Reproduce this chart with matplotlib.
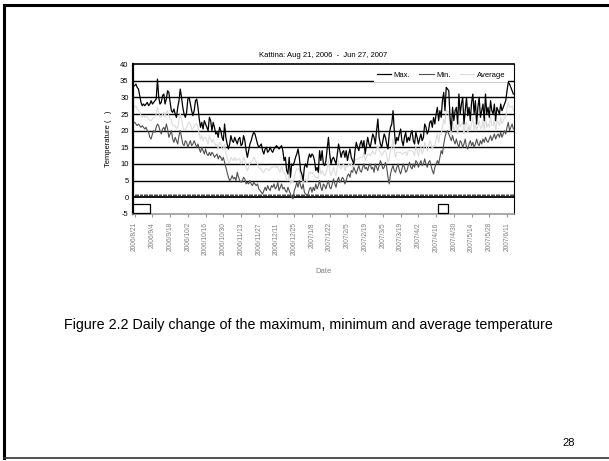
import datetime as dt
import matplotlib
matplotlib.use("Agg")
import matplotlib.pyplot as plt
from matplotlib.lines import Line2D
from matplotlib.patches import Rectangle

plt.rcParams["font.family"] = ["Liberation Sans", "DejaVu Sans"]
plt.rcParams["axes.unicode_minus"] = False

start_date = dt.date(2006, 8, 21)

# daily maximum temperature
t_max = [
    33.5, 34, 33, 32.5, 30.5, 28.5, 27.5, 28, 27.5, 28, 28.5, 27.5, 28, 29, 28, 28.5, 29, 29.5, 35.5, 30,
    28, 28.5, 30.5, 31, 28, 29.5, 32, 31.5, 28.5, 26, 25.5, 26.5, 25, 24, 27, 29, 32.5, 30, 27, 25,
    24, 25.5, 29.5, 30, 28, 26, 24.5, 26, 29, 29.5, 27, 23.5, 21, 22.5, 20.5, 23, 22, 21, 20, 24,
    23, 20, 22.5, 21, 19, 19.5, 18, 21, 20, 18, 17, 22, 18, 16, 14.5, 16, 18.5, 17, 16.5, 18,
    17, 16, 17.5, 18, 15.5, 16, 18.5, 17, 14, 12, 14, 16, 17, 18.5, 19.5, 19, 17.5, 16, 15, 15.5,
    16, 14, 13, 14.5, 15, 13.5, 14, 15, 14, 13.5, 14.5, 15, 15.5, 15, 14.5, 15, 15.5, 14, 11, 12,
    8, 7, 12, 6, 10, 9.5, 10.5, 12, 13, 14.5, 12, 8, 7, 5, 9, 10, 9, 11.5, 13, 12,
    13, 12.5, 11, 8, 9, 7.5, 14, 11, 14, 10, 9.5, 11, 14.5, 18, 13, 10, 11.5, 12, 11, 10,
    13, 16, 14, 12, 13.5, 14, 12, 14, 11, 13, 14.5, 12, 11, 10, 14, 16.5, 15, 14, 16, 17,
    15, 17, 13, 15.5, 18, 16, 15, 17, 19, 18, 16, 20, 23.5, 18, 16, 15, 17, 19, 18, 16,
    14.5, 19, 21, 22, 26, 20, 16, 18, 17, 19, 20.5, 17, 15.5, 18, 19.5, 16.5, 18, 17, 19, 20,
    17, 16, 19.5, 18, 16, 17.5, 19, 17, 18, 22, 21, 19, 20, 22.5, 23, 21, 24, 22, 25, 27,
    23, 26, 24, 29, 31.5, 26, 33, 32.5, 32, 24, 20, 27, 23, 26, 27, 22, 31, 25, 28, 30,
    22, 26, 30, 24.5, 27, 23, 28.5, 31, 25, 29, 22, 27, 30, 24, 26, 28, 23, 31, 25, 27,
    24, 29, 26, 25, 28, 23, 27, 26, 25, 28, 26, 27, 28, 29, 32, 34.5, 34, 33, 32, 31,
]

# daily minimum temperature
t_min = [
    22.5, 22, 21.5, 22, 21.5, 21, 21.5, 21, 20.5, 21, 20, 19.5, 18, 17.5, 19, 20, 19.5, 21, 22, 21.5,
    20, 19, 20.5, 21, 20, 22, 20.5, 18, 19, 20, 17.5, 16.5, 18, 17, 16, 18.5, 20, 18, 16, 15.5,
    17, 16.5, 15, 16, 17, 15.5, 16, 17, 16, 15, 16, 14.5, 13.5, 15, 14, 13, 14.5, 13, 12.5, 13.5,
    12.5, 13.5, 13, 12, 12.5, 13, 11.5, 12.5, 12, 11, 12, 10.5, 9, 7.5, 6, 5, 5.5, 6.5, 5.5, 6,
    5, 7.5, 6, 5, 4.5, 5, 6, 5.5, 4, 4.5, 4, 5, 4, 3.5, 4.5, 4, 3.5, 4, 2.5, 2,
    1.5, 1, 2, 3, 2, 3.5, 2.5, 2, 3.5, 3, 4, 2.5, 3, 4.5, 2, 3, 4, 2.5, 3, 2,
    1.5, 3, 2, 1, 0, -0.5, 2, 3, 4.5, 3, 5, 3.5, 2.5, 4, 1.5, 1, 0.5, 1, 2.5, 3,
    1.5, 3, 2, 4, 2.5, 3.5, 5, 3, 2, 4, 3.5, 2.5, 4, 5, 3, 2.5, 4, 5.5, 4, 3,
    5, 6, 4.5, 5, 6, 5.5, 4, 5, 6.5, 7, 6, 8, 7.5, 9, 8, 7, 8.5, 9.5, 8, 7.5,
    9, 10, 8.5, 9, 8, 9.5, 10, 8.5, 9, 7.5, 10, 9, 8, 9.5, 11, 10, 8.5, 9, 10.5, 9,
    6, 4, 7, 8.5, 9.5, 8, 7.5, 9, 10, 8, 7, 8.5, 10, 9, 7.5, 8, 9.5, 10.5, 9, 8.5,
    10, 9, 11, 10.5, 9, 10, 11, 9.5, 10, 11.5, 10, 9, 10.5, 11, 9.5, 8, 7, 9, 10, 11,
    10, 12, 14, 13, 16, 18, 19.5, 20, 19, 18, 17, 18.5, 17, 16, 17.5, 16, 15, 17, 16.5, 15,
    16, 17.5, 15, 14.5, 16, 17, 15.5, 16.5, 15, 16, 17.5, 16, 15.5, 17, 16, 17.5, 16.5, 18, 17, 16.5,
    17.5, 18.5, 17, 18, 19, 17.5, 18.5, 19, 18, 19.5, 18, 19, 20, 19, 21, 22.5, 20, 21, 22, 20.5,
]

# daily average temperature
t_avg = [
    27, 27.5, 26.5, 26, 25.5, 24.5, 24, 24.5, 24, 24.5, 24, 23.5, 23, 23, 23.5, 24, 24, 25, 27, 25.5,
    24, 24, 25, 25.5, 24, 25.5, 26, 24.5, 23.5, 23, 21.5, 21.5, 21.5, 20.5, 21, 23, 25, 23.5, 21.5, 20,
    20.5, 21, 22, 22.5, 22, 20.5, 20.5, 21.5, 22, 22, 21, 19, 17.5, 18.5, 17, 18, 18, 17, 16, 18.5,
    17.5, 16.5, 17.5, 16.5, 15.5, 16, 14.5, 16.5, 16, 14.5, 14.5, 16, 13.5, 12, 10.5, 10.5, 12, 11.5, 11, 12,
    11, 11.5, 11.5, 11.5, 10, 10.5, 12, 11, 9, 8, 9, 10.5, 10.5, 11, 12, 11.5, 10.5, 10, 9, 8.5,
    8.5, 7.5, 7.5, 8.5, 8.5, 8.5, 8, 8.5, 9, 9, 9.5, 9, 9, 9.5, 8, 7.5, 9.5, 8, 7, 7,
    5, 5, 7, 4, 5, 4.5, 6, 7.5, 8.5, 8.5, 8.5, 6, 5, 4.5, 5, 5.5, 4.5, 6, 7.5, 7.5,
    7, 7.5, 6.5, 6, 6, 5.5, 9.5, 7, 8, 7, 6.5, 7, 9, 11, 8, 6.5, 7.5, 9, 7.5, 6.5,
    9, 11, 9, 8.5, 9.5, 10, 8, 9.5, 9, 10, 10, 10, 9, 9.5, 11, 11.5, 11.5, 11.5, 12, 12,
    12, 13.5, 11, 12, 13, 13, 12.5, 13, 14, 13, 13, 14.5, 15.5, 14, 13.5, 12.5, 13, 14, 14, 12.5,
    10.5, 11.5, 14, 15, 17.5, 14, 12, 13.5, 13.5, 13.5, 13.5, 13, 13, 13.5, 13.5, 12.5, 14, 14, 14, 14,
    13.5, 12.5, 15, 14, 12.5, 14, 15, 13, 14, 16.5, 15.5, 14, 15, 17, 16, 14.5, 15.5, 15.5, 17.5, 19,
    16.5, 19, 19, 21, 23.5, 22, 26, 26, 25.5, 21, 18.5, 23, 20, 21, 22, 19, 23, 21, 22, 22.5,
    19, 22, 22.5, 19.5, 21.5, 20, 22, 24, 20, 22.5, 20, 21.5, 23, 20.5, 21, 23, 20, 24.5, 21, 22,
    21, 24, 21.5, 21.5, 23.5, 20, 23, 22.5, 21.5, 24, 22, 23, 24, 24, 26.5, 28.5, 27, 27, 27.5, 26,
]

days = list(range(len(t_max)))
tick_days = days[::14]
tick_labels = []
for d in tick_days:
    day = start_date + dt.timedelta(days=d)
    tick_labels.append(f"{day.year}/{day.month}/{day.day}")

# stray empty boxes on the original chart (day span)
boxes = [(-1.5, 12.5), (239.5, 247.5)]

fig = plt.figure(figsize=(6.09, 4.61), dpi=100)
ax = fig.add_axes([0.218, 0.536, 0.626, 0.325])

ax.plot(days, t_avg, color="#dcdcdc", lw=0.8, label="Average", zorder=2)
ax.plot(days, t_min, color="#505050", lw=0.8, label="Min.", zorder=3)
ax.plot(days, t_max, color="black", lw=0.9, label="Max.", zorder=4)

for y in range(5, 40, 5):
    ax.axhline(y, color="black", lw=1.0, zorder=1)
ax.axhline(0, color="black", lw=1.3, zorder=1)
ax.vlines(days, 0.3, 1.0, color="#222222", lw=0.6, zorder=1)

for x0, x1 in boxes:
    ax.add_patch(Rectangle((x0, -4.6), x1 - x0, 2.7, facecolor="white",
                           edgecolor="black", lw=0.9, zorder=5, clip_on=False))

ax.set_xlim(-1.5, len(days) - 0.5)
ax.set_ylim(-5, 40)
ax.set_yticks(range(-5, 41, 5))
ax.set_xticks(tick_days)
ax.set_xticklabels(tick_labels, rotation=90, fontsize=4.8, color="#808080")
ax.tick_params(axis="y", labelsize=5.5, length=0, pad=3)
ax.tick_params(axis="x", length=2, width=0.8, color="#999999", pad=4)

for side in ["left", "top", "right"]:
    ax.spines[side].set_color("black")
ax.spines["left"].set_linewidth(1.6)
ax.spines["top"].set_linewidth(1.2)
ax.spines["right"].set_linewidth(0.8)
ax.spines["bottom"].set_color("#999999")
ax.spines["bottom"].set_linewidth(1.2)

ax.set_title("Kattina: Aug 21, 2006  -  Jun 27, 2007", fontsize=5.5, pad=5)
ax.set_ylabel("Temperature (   )", fontsize=5.5, labelpad=6)
ax.set_xlabel("Date", fontsize=5.5, color="#808080", labelpad=9)

handles, labels = ax.get_legend_handles_labels()
order = [2, 1, 0]
leg = ax.legend([handles[i] for i in order], [labels[i] for i in order],
                loc="upper right", ncol=3, fontsize=5.5, frameon=True,
                fancybox=False, edgecolor="none", facecolor="white",
                framealpha=1, handlelength=1.9, handletextpad=0.3,
                columnspacing=1.2, borderpad=0.4,
                bbox_to_anchor=(0.995, 0.995))
leg.set_zorder(6)

fig.text(0.506, 0.295,
         "Figure 2.2 Daily change of the maximum, minimum and average temperature",
         ha="center", va="center", fontsize=10.3)
fig.text(0.933, 0.04, "28", ha="center", va="center", fontsize=8)

# slide border
fig.add_artist(Line2D([0.007, 1.0], [0.989, 0.989], color="black", lw=2.2))
fig.add_artist(Line2D([0.007, 0.007], [0.006, 0.989], color="black", lw=2.2))
fig.add_artist(Line2D([0.007, 1.0], [0.006, 0.006], color="#333333", lw=1.2))

fig.savefig("out.png", dpi=100)
